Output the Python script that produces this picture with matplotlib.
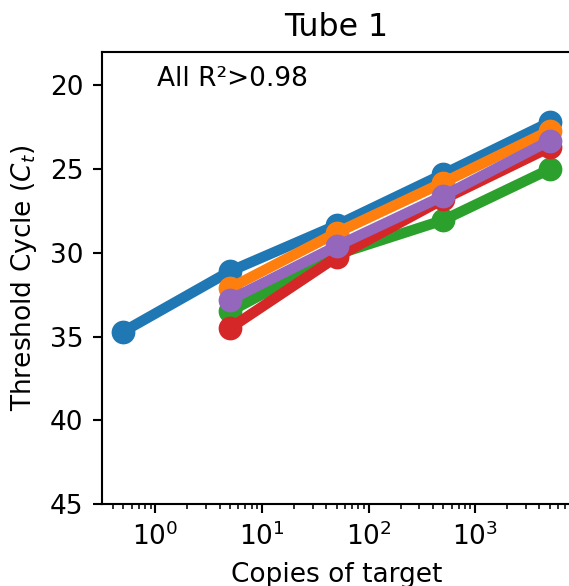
import matplotlib
matplotlib.use("Agg")
import matplotlib.pyplot as plt

copies_blue = [0.5, 5, 50, 500, 5000]
ct_blue = [34.7, 31.1, 28.35, 25.3, 22.2]
copies = [5, 50, 500, 5000]
ct_orange = [32.1, 28.8, 25.8, 22.7]
ct_green = [33.5, 30.1, 28.05, 25.0]
ct_red = [34.5, 30.25, 26.8, 23.7]
ct_purple = [32.8, 29.6, 26.6, 23.3]

DPI = 190
fig = plt.figure(figsize=(569/DPI, 586/DPI), dpi=DPI)
ax = fig.add_axes([102/569, (586-504)/586, (571-102)/569, (504-52)/586])

kw = dict(marker='o', lw=4, ms=8)
ax.plot(copies_blue, ct_blue, color='#1f77b4', **kw)
ax.plot(copies, ct_orange, color='#ff7f0e', **kw)
ax.plot(copies, ct_green, color='#2ca02c', **kw)
ax.plot(copies, ct_red, color='#d62728', **kw)
ax.plot(copies, ct_purple, color='#9467bd', **kw)

ax.set_xscale('log')
ax.set_ylim(45, 18)
ax.set_yticks([20, 25, 30, 35, 40, 45])
ax.set_xlabel('Copies of target', fontsize=10)
ax.set_ylabel('Threshold Cycle ($C_t$)', fontsize=10)
ax.set_title('Tube 1', fontsize=12)
ax.text(0.117, 0.925, 'All R²>0.98', transform=ax.transAxes,
        ha='left', va='baseline', fontsize=10)

fig.savefig('out.png', dpi=DPI)
